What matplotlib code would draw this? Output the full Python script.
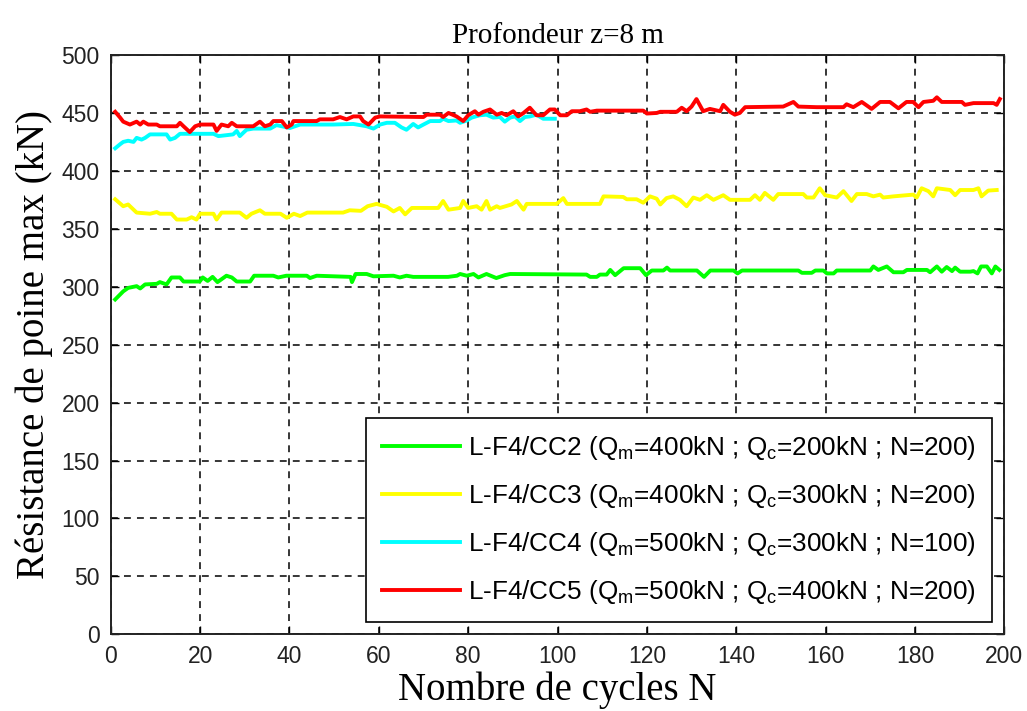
import matplotlib.pyplot as plt

plt.rcParams['font.family'] = ['Liberation Sans', 'DejaVu Sans']
plt.rcParams['mathtext.default'] = 'regular'

# values (cycle N, tip resistance kN)
cc2_n = [1.0, 2.8, 3.9, 5.8, 6.6, 7.7, 10.3, 11.0, 12.5, 13.6, 15.5, 16.3, 19.9, 20.6, 21.7, 22.8,
         23.9, 25.9, 27.1, 28.2, 31.2, 32.1, 36.4, 37.5, 39.3, 43.9, 44.6, 46.1, 53.7, 54.0, 54.8,
         57.3, 58.8, 63.3, 64.7, 66.2, 67.7, 75.5, 77.5, 78.2, 79.7, 81.2, 82.3, 84.1, 86.3, 88.2,
         89.4, 106.5, 107.3, 108.8, 109.5, 111.0, 111.8, 112.9, 114.8, 118.5, 119.8, 121.1, 123.7,
         124.5, 125.2, 131.2, 132.8, 134.2, 139.4, 140.3, 141.3, 153.9, 154.7, 156.9, 157.7, 159.5,
         160.3, 161.8, 162.5, 170.0, 170.7, 171.8, 173.7, 175.2, 177.4, 178.2, 182.7, 183.4, 184.9,
         186.0, 187.1, 188.3, 189.0, 190.1, 192.4, 193.1, 194.0, 194.8, 196.1, 197.2, 198.0, 198.9]
cc2_q = [289, 296, 299, 300.5, 298.5, 302, 302.5, 304, 302, 308, 308, 304.5, 304.5, 308, 305, 308.5,
         304, 309.5, 308, 304.5, 304.5, 309.5, 309.5, 308, 309.5, 309.5, 307.5, 309.5, 308.5, 304, 311,
         311, 309, 309.5, 308, 309.5, 308.5, 308.5, 309.5, 311, 309.5, 311, 308, 311, 307.5, 310,
         311, 310.5, 308.5, 308.5, 310.5, 310.5, 314.5, 310, 316, 316, 310, 314, 314,
         316.5, 314, 314, 308.5, 314, 314, 311.5, 314, 314, 312, 312, 314, 314,
         311.5, 311.5, 314, 314, 317.5, 314.5, 317.5, 312.5, 312.5, 314.5, 314.5, 312.5, 317.5,
         313, 317, 313.5, 316.5, 313, 313, 313.5, 311.5, 317.5, 317.5, 311.5, 317.5, 314.5]

cc3_n = [1.0, 2.8, 3.9, 5.8, 8.8, 10.3, 11.0, 13.6, 14.8, 17.0, 18.1, 19.2, 20.0, 23.0, 23.7, 24.8,
         28.9, 30.4, 31.5, 33.4, 34.5, 38.0, 39.4, 41.0, 42.4, 44.0, 52.0, 53.5, 56.0, 57.5, 59.5,
         61.8, 63.3, 64.7, 65.9, 67.4, 73.3, 74.4, 75.6, 78.2, 78.9, 80.0, 81.9, 83.0, 84.1, 84.9,
         86.4, 87.1, 89.7, 90.9, 92.4, 93.1, 99.8, 101.3, 102.1, 109.5, 110.3, 114.7, 115.5, 117.7,
         119.2, 120.7, 122.2, 123.0, 124.4, 125.9, 127.4, 128.9, 130.4, 131.9, 133.4, 134.9, 137.1,
         138.6, 143.1, 144.2, 145.3, 146.4, 148.3, 149.4, 155.0, 155.8, 157.3, 158.7, 159.9, 162.5,
         164.0, 165.8, 167.0, 169.2, 170.7, 172.2, 172.9, 175.2, 179.6, 180.4, 181.5, 183.0, 184.1,
         184.9, 187.9, 189.0, 190.1, 193.1, 194.2, 194.9, 196.4, 198.3]
cc3_q = [375.5, 369.5, 371, 364, 363, 364.5, 363, 363, 358, 358, 360, 358, 363, 363, 358, 364,
         364, 359.5, 363, 366, 363, 363, 359.5, 363, 361, 364, 364, 366, 365.5, 369.5, 371.5,
         369, 365, 368, 362.5, 368, 368, 374, 366.5, 368, 374, 368, 369.5, 366.5, 374, 366.5,
         369.5, 368, 371, 374, 366.5, 371.5, 371.5, 376.5, 371.5, 371.5, 378, 377.5, 375.5, 375.5,
         372.5, 378, 376, 371, 376.5, 378, 375, 369.5, 377, 375, 379, 375, 379,
         375, 375, 379, 375, 381, 375, 380, 380, 377, 377, 385, 379, 377,
         382.5, 374, 380, 380, 378, 379.5, 377, 378, 379.5, 377, 385, 382.5, 378,
         385, 383.5, 379, 383.5, 383.5, 385, 378, 383, 383.5]

cc4_n = [1.0, 2.1, 2.8, 3.9, 5.1, 5.8, 6.9, 7.7, 8.8, 12.5, 13.3, 14.4, 15.5, 23.0, 24.1, 27.4,
         28.2, 28.9, 29.7, 30.4, 31.9, 35.7, 37.1, 40.1, 42.4, 49.8, 54.3, 57.3, 58.8, 60.3, 61.8,
         63.6, 65.1, 66.2, 67.7, 68.8, 70.0, 71.5, 73.7, 74.4, 75.6, 77.4, 78.2, 79.7, 80.8, 82.6,
         84.1, 85.6, 87.1, 88.2, 89.4, 90.5, 91.6, 92.7, 93.8, 95.3, 96.8, 98.3, 99.4]
cc4_q = [419.5, 423, 425, 426, 425, 428.5, 427, 428.5, 431.5, 431.5, 427, 428.5, 432, 432, 430, 431.5,
         434.5, 430, 433, 435.5, 436.5, 436.5, 439.5, 437, 440, 440, 440.5, 438.5, 436.5, 440, 441.5,
         441.5, 437.5, 435.5, 440.5, 437.5, 440, 443, 443, 445, 443, 443.5, 441.5, 443.5, 446, 448,
         448.5, 446, 446.5, 442.5, 446, 447, 443, 446.5, 447, 448.5, 445, 445, 445]

cc5_n = [1.0, 2.1, 2.8, 4.3, 5.8, 6.6, 7.3, 8.4, 10.3, 11.0, 14.8, 15.5, 16.3, 17.7, 18.9, 20.0,
         23.0, 23.7, 24.8, 26.3, 27.1, 28.2, 31.9, 33.4, 34.5, 35.7, 36.4, 38.3, 39.4, 40.5, 40.9,
         46.1, 46.8, 49.8, 51.3, 52.8, 54.3, 55.8, 56.5, 57.7, 59.2, 60.3, 70.0, 70.7, 73.7, 74.4,
         75.6, 77.4, 78.9, 80.0, 81.5, 82.3, 83.4, 84.9, 86.4, 87.5, 88.6, 90.1, 91.2, 92.4, 93.8,
         95.3, 96.8, 98.3, 99.4, 100.6, 102.1, 103.2, 105.0, 106.5, 107.3, 108.8, 119.2, 120.0,
         122.2, 123.0, 126.7, 127.8, 128.9, 130.0, 131.1, 132.6, 134.1, 136.4, 137.1, 138.6, 139.7,
         140.8, 142.0, 150.5, 152.8, 153.9, 158.0, 164.0, 164.7, 166.2, 168.1, 170.3, 172.2, 174.4,
         176.3, 178.1, 179.6, 180.8, 181.9, 184.1, 184.9, 186.0, 190.5, 191.2, 193.1, 197.6, 198.3,
         199.0]
cc5_q = [451, 446, 442.5, 440, 442.5, 440, 442.5, 440, 440, 438.5, 438.5, 441.5, 438.5, 433.5, 438.5, 440,
         440, 434.5, 440, 438.5, 441.5, 438.5, 438.5, 442.5, 438.5, 440, 443, 443, 437.5, 440, 443,
         443, 444.5, 444.5, 446.5, 444.5, 447, 447, 443, 440, 446, 447, 446.5, 448.5, 448.5, 446.5,
         450, 447, 443, 448, 451.5, 448.5, 451, 453, 448.5, 450, 448, 451.5, 447, 450, 454.5,
         448, 448, 453, 453, 448, 448, 451.5, 451.5, 453, 451, 452, 452, 449.5,
         450, 451, 451, 454.5, 451.5, 455.5, 462, 451.5, 453.5, 451.5, 457, 451, 448.5,
         450, 455, 455.5, 459.5, 455.5, 455, 455, 457.5, 455, 459.5, 453.5, 459.5, 459.5,
         454, 459.5, 459.5, 455, 459.5, 460.5, 463.5, 459.5, 459.5, 457, 458.5, 458.5, 457,
         462]

labels = [
    'L-F4/CC2 (Q$_m$=400kN ; Q$_c$=200kN ; N=200)',
    'L-F4/CC3 (Q$_m$=400kN ; Q$_c$=300kN ; N=200)',
    'L-F4/CC4 (Q$_m$=500kN ; Q$_c$=300kN ; N=100)',
    'L-F4/CC5 (Q$_m$=500kN ; Q$_c$=400kN ; N=200)',
]
colors = ['#00ff00', '#ffff00', '#00ffff', '#ff0000']

fig, ax = plt.subplots(figsize=(10.27, 7.11), dpi=100)
fig.subplots_adjust(left=0.1078, right=0.9779, bottom=0.1079, top=0.9226)

series = [(cc2_n, cc2_q), (cc3_n, cc3_q), (cc4_n, cc4_q), (cc5_n, cc5_q)]
for (n, q), lab, col in zip(series, labels, colors):
    ax.plot(n, q, color=col, linewidth=2.8, label=lab)

ax.set_xlim(0, 200)
ax.set_ylim(0, 500)
ax.set_xticks(range(0, 201, 20))
ax.set_yticks(range(0, 501, 50))
ax.grid(True, color='k', linestyle=(0, (4.5, 4)), linewidth=1.1)
ax.set_axisbelow(True)
ax.tick_params(direction='in', length=6, width=1.0, top=True, right=True,
               labelsize=16.5, labelcolor='#222222', pad=8)
for s in ax.spines.values():
    s.set_linewidth(1.4)
    s.set_color('#222222')

ax.set_title('Profondeur z=8 m', family='Liberation Serif', fontsize=21, pad=9)
ax.set_xlabel('Nombre de cycles N', family='Liberation Serif', fontsize=28, labelpad=2)
ax.set_ylabel('Résistance de poine max (kN)', family='Liberation Serif', fontsize=28, labelpad=6)

leg = ax.legend(loc='lower right', bbox_to_anchor=(0.986, 0.021), borderaxespad=0,
                fontsize=18.8, handlelength=3.0, handletextpad=0.3, labelspacing=0.77,
                borderpad=0.6, fancybox=False, framealpha=1)
leg.get_frame().set_edgecolor('k')
leg.get_frame().set_linewidth(1.2)

fig.savefig('out.png', dpi=100)
